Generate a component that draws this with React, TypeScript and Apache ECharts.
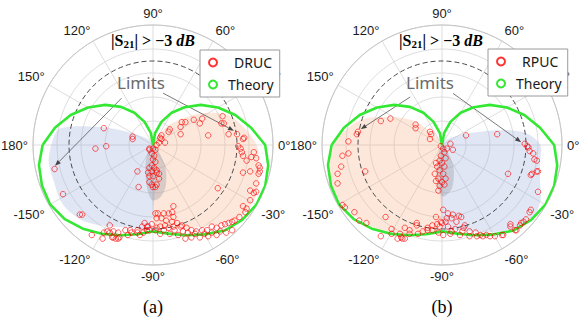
import React, { useEffect, useRef } from "react";
import * as echarts from "echarts";

// ---------- data ----------
// Theory pattern: angle (deg) -> normalised radius
const theoryAngle = [
  -180, -170, -160, -150, -140, -130, -120, -110, -100, -90, -80, -70, -60, -50, -40, -30, -20, -10,
  0, 10, 20, 30, 40, 50, 60, 70, 80, 90, 100, 110, 120, 130, 140, 150, 160, 170, 180,
];
const theoryR = [
  0.92, 0.965, 0.985, 0.99, 0.96, 0.91, 0.855, 0.8, 0.755, 0.72, 0.75, 0.8, 0.86, 0.93, 0.97, 0.995, 0.995, 0.975,
  0.935, 0.83, 0.73, 0.625, 0.52, 0.41, 0.31, 0.205, 0.1, 0, 0.1, 0.205, 0.31, 0.415, 0.52, 0.625, 0.73, 0.83, 0.92,
];

// -3 dB limit circle (normalised radius)
const limitR = 0.7;

// Measured samples, complex form [re, im] in normalised units
const drucSamples: [number, number][] = [
  [-0.41, 0.14], [-0.17, 0.07], [-0.17, 0.05], [-0.48, -0.03], [-0.39, -0.01], [-0.82, -0.2], [-0.13, -0.22],
  [-0.12, -0.35], [-0.75, -0.41], [-0.61, -0.58], [-0.59, -0.58], [-0.51, -0.75], [-0.42, -0.78], [-0.41, -0.73],
  [-0.38, -0.72], [-0.36, -0.73], [-0.36, -0.67], [-0.33, -0.72], [-0.34, -0.77], [-0.33, -0.77], [-0.31, -0.78],
  [-0.29, -0.78], [-0.28, -0.77], [-0.29, -0.73], [-0.23, -0.71], [-0.19, -0.71], [-0.21, -0.75], [-0.18, -0.73],
  [-0.13, -0.73], [-0.13, -0.71], [-0.09, -0.68], [-0.07, -0.65], [-0.05, -0.71], [-0.04, -0.68], [-0.08, -0.73],
  [-0.11, -0.75],
  [0.0, -0.03], [0.02, -0.04], [-0.01, -0.07], [0.01, -0.09], [0.0, -0.12], [0.02, -0.14], [-0.01, -0.17],
  [0.01, -0.19], [-0.01, -0.22], [-0.04, -0.23], [-0.03, -0.26], [-0.03, -0.31], [-0.01, -0.33], [0.0, -0.35],
  [0.02, -0.35], [0.03, -0.33], [0.05, -0.28], [0.05, -0.24], [0.03, -0.23], [0.0, -0.26], [0.03, -0.21],
  [-0.03, -0.19], [-0.03, -0.03], [-0.03, -0.04], [0.03, 0.0], [0.05, 0.02], [0.07, 0.05],
  [0.24, 0.19], [0.27, 0.19], [0.34, 0.21], [0.41, 0.22], [0.39, 0.18], [0.23, 0.15], [0.14, 0.13], [0.13, 0.11],
  [0.07, 0.08], [0.06, 0.06], [0.1, 0.02], [0.23, 0.09], [0.46, 0.08], [0.58, 0.24], [0.57, 0.18], [0.59, 0.18],
  [0.63, 0.09], [0.7, 0.09], [0.76, 0.06], [0.75, 0.05], [0.71, -0.01], [0.73, -0.03], [0.74, -0.06], [0.75, -0.09],
  [0.78, -0.13], [0.82, -0.1], [0.84, -0.06], [0.89, -0.19], [0.89, -0.22], [0.81, -0.22], [0.75, -0.23],
  [0.88, -0.24], [0.86, -0.11], [0.88, -0.17], [0.86, -0.32], [0.84, -0.4], [0.86, -0.39], [0.54, -0.36],
  [0.81, -0.46], [0.78, -0.53], [0.77, -0.56], [0.75, -0.51], [0.72, -0.6], [0.68, -0.63], [0.66, -0.64],
  [0.63, -0.65], [0.6, -0.66], [0.57, -0.67], [0.53, -0.69], [0.49, -0.68], [0.45, -0.71], [0.41, -0.71],
  [0.36, -0.72], [0.32, -0.71], [0.28, -0.69], [0.23, -0.68], [0.17, -0.51], [0.16, -0.56], [0.17, -0.6],
  [0.13, -0.57], [0.09, -0.57], [0.04, -0.57], [0.02, -0.57], [0.03, -0.61], [0.07, -0.61], [0.11, -0.63],
  [0.16, -0.64], [0.2, -0.65], [0.24, -0.67], [0.27, -0.78], [0.32, -0.77], [0.39, -0.77], [0.46, -0.76],
  [0.53, -0.75], [0.06, -0.74], [0.14, -0.74], [0.21, -0.75], [0.02, -0.71], [0.09, -0.71], [0.81, -0.38],
  [0.61, -0.73], [0.66, -0.71], [0.35, -0.74], [0.29, -0.73], [0.18, -0.71], [0.13, -0.69], [0.06, -0.68],
  [-0.01, -0.66], [-0.05, -0.68], [-0.03, -0.71], [0.03, -0.69], [0.1, -0.67], [0.17, -0.68], [0.25, -0.72],
  [0.43, -0.74], [0.49, -0.73], [0.56, -0.72],
];

const rpucSamples: [number, number][] = [
  [-0.43, 0.22], [-0.51, 0.2], [-0.22, 0.17], [-0.22, 0.14], [-0.1, 0.11], [-0.09, 0.09], [-0.1, 0.05],
  [-0.7, 0.11], [-0.71, 0.09], [-0.78, 0.03], [-0.78, -0.07], [-0.83, -0.09], [-0.84, -0.18], [-0.87, -0.24],
  [-0.87, -0.32], [-0.64, -0.22], [-0.83, -0.5], [-0.81, -0.52], [-0.73, -0.56], [-0.69, -0.63], [-0.63, -0.65],
  [-0.47, -0.6], [-0.51, -0.76], [-0.42, -0.74], [-0.42, -0.7], [-0.35, -0.74], [-0.34, -0.77], [-0.33, -0.78],
  [-0.31, -0.78], [-0.37, -0.78], [-0.31, -0.69], [-0.27, -0.74], [-0.21, -0.65], [-0.2, -0.74], [-0.16, -0.72],
  [-0.12, -0.71], [-0.08, -0.67], [-0.05, -0.6], [-0.02, -0.68], [-0.01, -0.64], [-0.27, -0.71], [-0.21, -0.67],
  [-0.01, -0.01], [0.01, -0.03], [0.02, -0.06], [0.04, -0.03], [0.07, 0.01], [0.09, -0.04], [-0.05, -0.15],
  [-0.04, -0.18], [-0.06, -0.24], [-0.05, -0.3], [-0.02, -0.13], [0.0, -0.15], [0.02, -0.18], [-0.02, -0.21],
  [0.01, -0.24], [0.03, -0.28], [-0.03, -0.28], [0.0, -0.31], [-0.02, -0.34], [0.02, -0.33], [-0.03, -0.38],
  [-0.01, -0.09], [0.03, -0.11],
  [0.2, 0.08], [0.46, 0.09], [0.69, 0.01], [0.71, -0.01], [0.72, -0.02], [0.73, -0.05], [0.77, -0.12],
  [0.79, -0.22], [0.75, -0.24], [0.55, -0.24], [0.8, -0.39], [0.74, -0.54], [0.7, -0.62], [0.68, -0.64],
  [0.65, -0.67], [0.61, -0.71], [0.57, -0.68], [0.57, -0.66], [0.5, -0.75], [0.44, -0.76], [0.4, -0.76],
  [0.32, -0.75], [0.29, -0.76], [0.23, -0.76], [0.15, -0.75], [0.07, -0.74], [0.01, -0.75], [0.01, -0.54],
  [0.05, -0.57], [0.09, -0.58], [0.14, -0.59], [0.08, -0.61], [0.03, -0.64], [0.12, -0.64], [0.19, -0.67],
  [0.16, -0.6], [0.04, -0.61], [0.18, -0.69], [0.23, -0.72], [0.34, -0.76], [0.51, -0.75], [0.62, -0.71],
  [0.66, -0.65], [0.73, -0.56], [0.74, -0.25], [0.8, -0.22], [0.79, -0.13], [0.76, -0.07], [-0.04, -0.66],
  [0.0, -0.65], [0.05, -0.68], [0.11, -0.7], [0.17, -0.72], [0.28, -0.73], [0.37, -0.75], [-0.12, -0.69],
  [-0.08, -0.71], [-0.03, -0.73], [0.08, -0.72],
];

// Shaded lobes, boundary as [angle deg, r]
const lobeA_blue: [number, number][] = [
  [-90, 0], [152, 0.22], [162, 0.49], [170, 0.79], [178, 0.84], [-171, 0.88], [-160, 0.88], [-149, 0.9],
  [-141, 0.89], [-131, 0.85], [-118, 0.77], [-104, 0.71], [-92, 0.69],
];
const lobeA_orange: [number, number][] = [
  [90, 0], [60, 0.1], [48, 0.25], [34, 0.47], [22, 0.67], [9, 0.79], [-1, 0.87], [-8, 0.89], [-20, 0.94],
  [-30, 0.96], [-40, 0.94], [-51, 0.85], [-68, 0.75], [-85, 0.69], [-89, 0.69],
];
const lobeA_gray: [number, number][] = [
  [-90, 0], [-115, 0.14], [-99, 0.34], [-91, 0.46], [-82, 0.44], [-72, 0.35], [-59, 0.19],
];
const lobeB_orange: [number, number][] = [
  [90, 0], [130, 0.14], [141, 0.33], [154, 0.53], [163, 0.71], [176, 0.87], [-175, 0.93], [-164, 0.97],
  [-152, 0.97], [-140, 0.93], [-126, 0.88], [-113, 0.8], [-97, 0.74], [-91, 0.73],
];
const lobeB_blue: [number, number][] = [
  [-90, 0], [29, 0.17], [19, 0.34], [13, 0.55], [8, 0.71], [0, 0.82], [-10, 0.83], [-20, 0.87], [-29, 0.94],
  [-38, 0.97], [-46, 0.94], [-56, 0.87], [-70, 0.77], [-83, 0.71], [-89, 0.71],
];
const lobeB_gray: [number, number][] = [
  [-90, 0], [-104, 0.17], [-97, 0.34], [-89, 0.43], [-77, 0.37], [-61, 0.19],
];

// "Limits" annotation arrows: [r0, angle0, r1, angle1]
const arrowsA = [
  [0.47, 124, 0.835, -168],
  [0.44, 79, 0.685, 10],
];
const arrowsB = [
  [0.48, 123.5, 0.69, 169],
  [0.44, 78, 0.66, 2],
];

// ---------- styling ----------
const GREEN = "#33e833";
const RED = "rgba(255,0,0,0.78)";
const GRID = "#d4d4d4";

const toPolar = (s: [number, number][]) =>
  s.map(([re, im]) => [Math.hypot(re, im), (Math.atan2(im, re) * 180) / Math.PI]);

function lobeSeries(polarIndex: number, pts: [number, number][], fill: string, z: number) {
  return {
    type: "custom",
    coordinateSystem: "polar",
    polarIndex,
    silent: true,
    z,
    data: [[0, 0]],
    renderItem: (_p: any, api: any) => ({
      type: "polygon",
      shape: { points: pts.map(([a, r]) => api.coord([r, a])), smooth: 0.3 },
      style: { fill },
    }),
  };
}

function limitCircleSeries(polarIndex: number) {
  return {
    type: "custom",
    coordinateSystem: "polar",
    polarIndex,
    silent: true,
    z: 3,
    data: [[0, 0]],
    renderItem: (_p: any, api: any) => {
      const c = api.coord([0, 0]);
      const e = api.coord([limitR, 0]);
      return {
        type: "circle",
        shape: { cx: c[0], cy: c[1], r: Math.hypot(e[0] - c[0], e[1] - c[1]) },
        style: { fill: "none", stroke: "#4a4a4a", lineWidth: 1, lineDash: [5, 3] },
      };
    },
  };
}

function arrowSeries(polarIndex: number, arrows: number[][]) {
  return {
    type: "custom",
    coordinateSystem: "polar",
    polarIndex,
    silent: true,
    z: 4,
    dimensions: ["r0", "a0", "r1", "a1"],
    data: arrows,
    renderItem: (_p: any, api: any) => {
      const p0 = api.coord([api.value(0), api.value(1)]);
      const p1 = api.coord([api.value(2), api.value(3)]);
      const dx = p1[0] - p0[0];
      const dy = p1[1] - p0[1];
      const len = Math.hypot(dx, dy) || 1;
      const ux = dx / len;
      const uy = dy / len;
      const L = 6;
      const W = 2.3;
      const bx = p1[0] - ux * L;
      const by = p1[1] - uy * L;
      return {
        type: "group",
        children: [
          {
            type: "line",
            shape: { x1: p0[0], y1: p0[1], x2: bx, y2: by },
            style: { stroke: "#555", lineWidth: 0.8 },
          },
          {
            type: "polygon",
            shape: { points: [p1, [bx - uy * W, by + ux * W], [bx + uy * W, by - ux * W]] },
            style: { fill: "#444" },
          },
        ],
      };
    },
  };
}

function axes(polarIndex: number) {
  return {
    angle: {
      polarIndex,
      type: "value",
      min: -180,
      max: 180,
      interval: 30,
      startAngle: 180,
      clockwise: false,
      z: 0,
      axisLine: { show: true, lineStyle: { color: "#c6c6c6", width: 1 } },
      axisTick: { show: false },
      axisLabel: {
        margin: 5,
        color: "#1a1a1a",
        fontSize: 13,
        fontFamily: "Liberation Sans",
        formatter: (v: number) => (v === 180 ? "" : v === -180 ? "180°" : `${v}°`),
      },
      splitLine: { show: true, lineStyle: { color: GRID, width: 0.8 } },
    },
    radius: {
      polarIndex,
      type: "value",
      min: 0,
      max: 1,
      interval: 0.2,
      z: 0,
      axisLine: { show: false },
      axisTick: { show: false },
      axisLabel: { show: false },
      splitLine: { show: true, lineStyle: { color: GRID, width: 0.8 } },
    },
  };
}

function plotSeries(
  polarIndex: number,
  sampleName: string,
  samples: [number, number][],
  lobes: [[number, number][], string][],
  arrows: number[][]
) {
  return [
    ...lobes.map(([pts, fill]) => lobeSeries(polarIndex, pts, fill, 1)),
    limitCircleSeries(polarIndex),
    arrowSeries(polarIndex, arrows),
    {
      name: "Theory",
      type: "line",
      coordinateSystem: "polar",
      polarIndex,
      silent: true,
      z: 5,
      symbol: "none",
      data: theoryAngle.map((a, i) => [theoryR[i], a]),
      lineStyle: { color: GREEN, width: 2.6 },
      itemStyle: { color: GREEN },
    },
    {
      name: sampleName,
      type: "scatter",
      coordinateSystem: "polar",
      polarIndex,
      silent: true,
      z: 6,
      symbol: "circle",
      symbolSize: 5.5,
      data: toPolar(samples),
      itemStyle: { color: "rgba(0,0,0,0)", borderColor: RED, borderWidth: 1 },
    },
  ];
}

function legend(left: number, top: number, sampleName: string) {
  return {
    left,
    top,
    z: 20,
    orient: "vertical",
    backgroundColor: "#fff",
    borderColor: "#9a9a9a",
    borderWidth: 1,
    borderRadius: 0,
    padding: [4, 6, 4, 8],
    itemGap: 5,
    itemWidth: 8,
    itemHeight: 8,
    selectedMode: false,
    textStyle: { fontFamily: "Noto Sans", fontSize: 14, color: "#1a1a1a", lineHeight: 17 },
    data: [
      {
        name: sampleName,
        icon: "circle",
        itemStyle: { color: "#fff", borderColor: "#ff0000", borderWidth: 2 },
        textStyle: { padding: [0, 0, 0, 12] },
      },
      {
        name: "Theory",
        icon: "circle",
        itemStyle: { color: "#fff", borderColor: GREEN, borderWidth: 2 },
        textStyle: { padding: [0, 0, 0, 6] },
      },
    ],
  };
}

const heading = (x: number) => ({
  text: "{n||S}{s|21}{n|| > }{b|−3 }{bi|dB}",
  left: x,
  top: 32,
  textAlign: "center",
  padding: 0,
  textStyle: {
    rich: {
      n: { fontFamily: "Liberation Serif", fontSize: 16, color: "#000" },
      s: { fontFamily: "Liberation Serif", fontSize: 11, fontWeight: "bold", color: "#000", padding: [6, 0, 0, 0] },
      b: { fontFamily: "Liberation Serif", fontSize: 16, fontWeight: "bold", color: "#000" },
      bi: { fontFamily: "Liberation Serif", fontSize: 16, fontWeight: "bold", fontStyle: "italic", color: "#000" },
    },
  },
});

const limitsLabel = (x: number) => ({
  text: "Limits",
  left: x,
  top: 74,
  textAlign: "center",
  padding: 0,
  textStyle: { fontFamily: "Noto Sans", fontSize: 17, fontWeight: "normal", color: "#6b6b6b" },
});

const caption = (x: number, t: string) => ({
  text: t,
  left: x,
  top: 298,
  textAlign: "center",
  padding: 0,
  textStyle: { fontFamily: "Liberation Serif", fontSize: 18, fontWeight: "normal", color: "#000" },
});

export default function App() {
  const ref = useRef<HTMLDivElement>(null);
  useEffect(() => {
    if (!ref.current) return;
    const chart = echarts.init(ref.current, undefined, { renderer: "svg" });
    const a0 = axes(0);
    const a1 = axes(1);
    chart.setOption({
      animation: false,
      backgroundColor: "#fff",
      textStyle: { fontFamily: "Liberation Sans" },
      title: [
        heading(153),
        heading(441),
        limitsLabel(141),
        limitsLabel(430),
        caption(153, "(a)"),
        caption(442, "(b)"),
      ],
      polar: [
        { center: [153, 145], radius: [0, 120] },
        { center: [442, 145], radius: [0, 120] },
      ],
      angleAxis: [a0.angle, a1.angle],
      radiusAxis: [a0.radius, a1.radius],
      legend: [legend(200, 50, "DRUC"), legend(488, 49, "RPUC")],
      series: [
        ...plotSeries(
          0,
          "DRUC",
          drucSamples,
          [
            [lobeA_blue, "rgba(160,178,222,0.33)"],
            [lobeA_orange, "rgba(244,177,131,0.3)"],
            [lobeA_gray, "rgba(150,150,160,0.35)"],
          ],
          arrowsA
        ),
        ...plotSeries(
          1,
          "RPUC",
          rpucSamples,
          [
            [lobeB_orange, "rgba(244,177,131,0.3)"],
            [lobeB_blue, "rgba(160,178,222,0.33)"],
            [lobeB_gray, "rgba(150,150,160,0.35)"],
          ],
          arrowsB
        ),
      ],
    });
    return () => chart.dispose();
  }, []);
  return (
    <div
      ref={ref}
      style={{ position: "absolute", left: 0, top: 0, width: 583, height: 325, background: "#fff" }}
    />
  );
}
